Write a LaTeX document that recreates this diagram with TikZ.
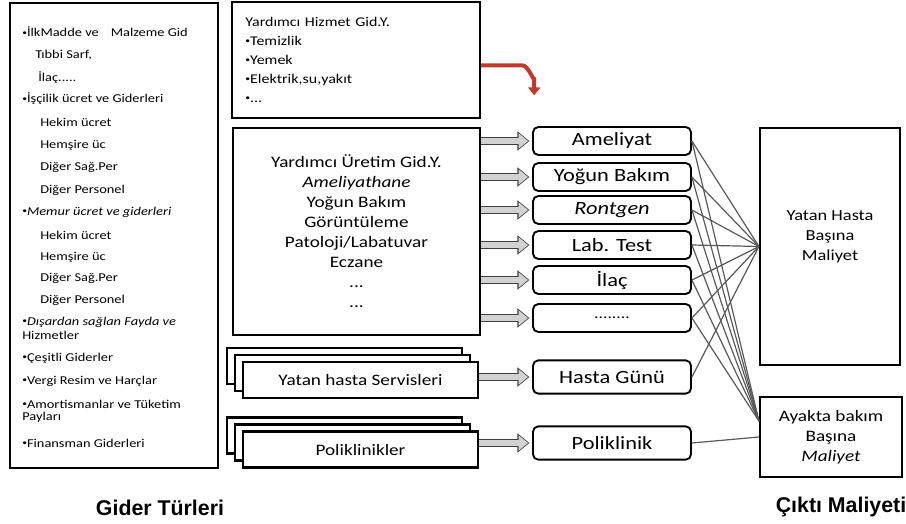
\documentclass[tikz,border=0pt]{standalone}
\usepackage{fontspec}
\setmainfont{Carlito}[FakeStretch=1.2]
\newfontfamily\titlefont{Liberation Sans}
\newcommand\madde{\raisebox{0.25ex}{\fontsize{6}{6}\selectfont•}}
\usetikzlibrary{positioning, calc, shadows, arrows.meta}

\begin{document}
\begin{tikzpicture}[x=0.75pt, y=-0.75pt,
    frame/.style={draw, line width=1.8pt, fill=white, inner sep=0pt},
    itembox/.style={draw, line width=1.4pt, rounded corners=4pt, fill=white, minimum width=118.5pt, minimum height=21pt, inner sep=0pt, font=\fontsize{14}{16}\selectfont},
    outbox/.style={draw, line width=1.6pt, fill=white, inner sep=0pt, align=center, font=\fontsize{12}{15}\selectfont},
    stackbox/.style={frame, minimum width=176pt, minimum height=27pt, double copy shadow={shadow xshift=-6pt, shadow yshift=5.25pt}, font=\fontsize{12}{14}\selectfont},
    fatarrow/.style={line width=4pt, draw=gray!35, -{Triangle[length=7pt, width=11pt]}, shorten >=3pt, preaction={draw=black!75, line width=6pt, -{Triangle[length=9pt, width=14pt]}, shorten >=2pt}},
    redarrow/.style={line width=3pt, draw={rgb,255:red,192;green,57;blue,43}, -{Triangle[length=6pt, width=9pt]}},
    link/.style={draw=black!65, line width=0.9pt},
    title/.style={font=\titlefont\bfseries\fontsize{16}{18}\selectfont}]
    \useasboundingbox (0,0) rectangle (906,524);
    % gider kalemleri
    \node[frame, minimum width=156pt, minimum height=348.75pt] (giderler) at (114,235.5) {};
    \foreach \x/\y/\t [count=\i] in {22/32/{\madde İlkMadde ve\quad Malzeme Gid}, 35/55/{Tıbbi Sarf,}, 38/78/{İlaç.....},
        22/99/{\madde İşçilik ücret ve Giderleri}, 40/122/{Hekim ücret}, 40/145/{Hemşire üc}, 40/167/{Diğer Sağ.Per}, 40/190/{Diğer Personel},
        22/212/{\madde\textit{Memur ücret ve giderleri}}, 40/235/{Hekim ücret}, 40/257/{Hemşire üc}, 40/278/{Diğer Sağ.Per}, 40/300/{Diğer Personel},
        22/322/{\madde\textit{Dışardan sağlan Fayda ve}}, 22/335/{Hizmetler}, 22/358/{\madde Çeşitli Giderler}, 22/381/{\madde Vergi Resim ve Harçlar},
        22/404/{\madde Amortismanlar ve Tüketim}, 22/417/{Payları}, 22/443/{\madde Finansman Giderleri}}
        \node[anchor=west, inner sep=0pt, font=\fontsize{9}{11}\selectfont] (kalem\i) at (\x,\y) {\t};
    \node[title] (gidertur) at (160,508) {Gider Türleri};

    % yardimci hizmet ve uretim
    \node[frame, minimum width=184.5pt, minimum height=87pt, text width=166pt, inner xsep=10pt, align=left, font=\fontsize{10}{14.25}\selectfont] (hizmet) at (356,60)
        {Yardımcı Hizmet Gid.Y.\\\madde Temizlik\\\madde Yemek\\\madde Elektrik,su,yakıt\\\madde...};
    \node[frame, minimum width=185pt, minimum height=155pt, align=center, font=\fontsize{12}{15}\selectfont] (uretim) at (356.5,231.5)
        {Yardımcı Üretim Gid.Y.\\\textit{Ameliyathane}\\Yoğun Bakım\\Görüntüleme\\Patoloji/Labatuvar\\Eczane\\...\\...};
    \node[stackbox] (servis) at (360.5,380) {Yatan hasta Servisleri};
    \node[stackbox] (polikl) at (360.5,449.5) {Poliklinikler};

    % cikti kalemleri
    \node[itembox] (amel) at (612,141) {Ameliyat};
    \node[itembox] (yogun) at (612,177) {Yoğun Bakım};
    \node[itembox] (rontgen) at (612,210) {\textit{Rontgen}};
    \node[itembox] (lab) at (612,245) {Lab. Test};
    \node[itembox] (ilac) at (612,280) {İlaç};
    \node[itembox, font=\fontsize{11}{13}\selectfont] (diger) at (612,318) {........};
    \node[itembox, minimum height=25pt] (hgun) at (612,377) {Hasta Günü};
    \node[itembox, minimum height=25pt] (polk) at (612,443) {Poliklinik};

    % maliyetler
    \node[outbox, minimum width=105pt, minimum height=178pt] (yatan) at (830,246.5) {};
    \node[align=center, font=\fontsize{11.5}{15}\selectfont] (yatantxt) at (830,237) {Yatan Hasta\\Başına\\Maliyet};
    \node[outbox, minimum width=106.5pt, minimum height=60pt] (ayakta) at (831,437) {Ayakta bakım\\Başına\\\textit{Maliyet}};
    \node[title] (cikti) at (841,507) {Çıktı Maliyeti};
    \coordinate (ayin) at ([yshift=12pt]ayakta.west);

    \draw[redarrow] ([yshift=-4pt]hizmet.east) -- ++(41,0) to[out=0, in=-90] ++(12,12) -- ++(0,18);
    \foreach \b in {amel,yogun,rontgen,lab,ilac,diger}
        \draw[fatarrow] (uretim.east |- \b.west) -- (\b.west);
    \draw[fatarrow] (servis.east |- hgun.west) -- (hgun.west);
    \draw[fatarrow] (polikl.east |- polk.west) -- (polk.west);

    \foreach \b in {amel,yogun,rontgen,lab,ilac,diger} {
        \draw[link] (\b.east) -- (yatan.west);
        \draw[link] (\b.east) -- (ayin);
    }
    \draw[link] (hgun.east) -- (yatan.west);
    \draw[link] (polk.east) -- (ayakta.west);
\end{tikzpicture}
\end{document}
